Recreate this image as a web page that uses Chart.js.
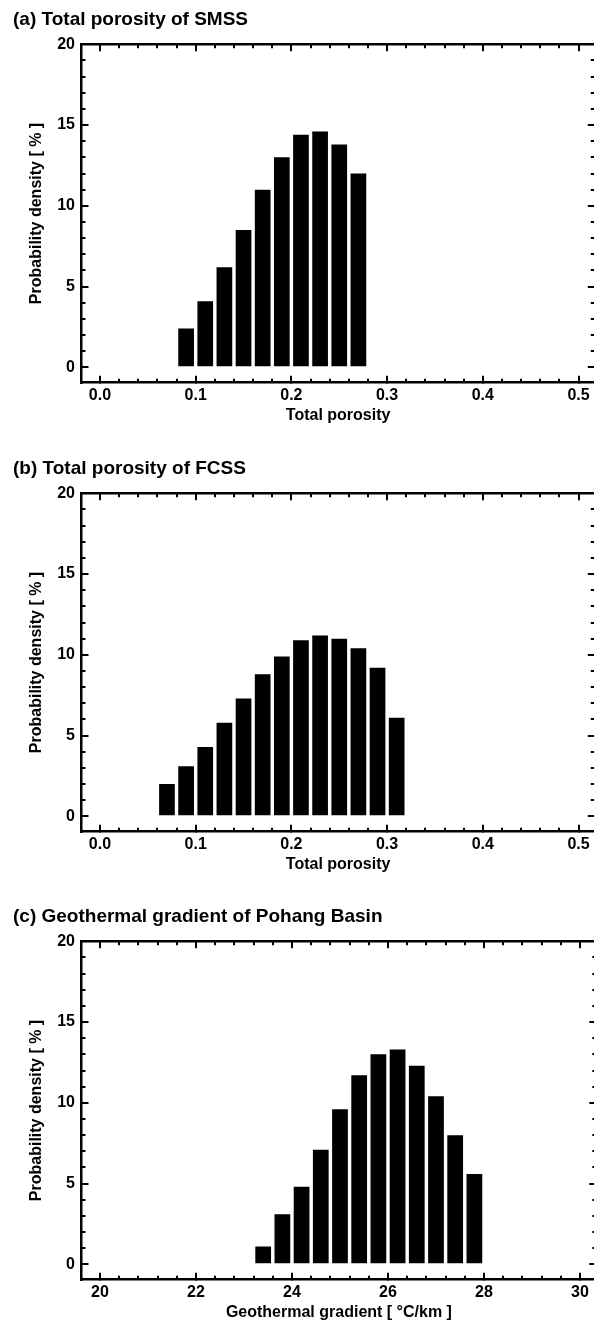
<!DOCTYPE html>
<html>
<head>
<meta charset="utf-8">
<title>Probability density histograms</title>
<script src="https://cdn.jsdelivr.net/npm/chart.js@4.4.1/dist/chart.umd.min.js"></script>
<style>
  html, body { margin: 0; padding: 0; background: #fff; }
  #page { position: relative; width: 594px; height: 1327px; overflow: hidden; background: #fff; }
  #page canvas { position: absolute; left: 0; }
</style>
</head>
<body>
<div id="page">
  <canvas id="panelA" width="600" height="449" style="top:0px"></canvas>
  <canvas id="panelB" width="600" height="449" style="top:449px"></canvas>
  <canvas id="panelC" width="600" height="449" style="top:897px"></canvas>
</div>
<script>
// ---- data ----------------------------------------------------------------
// (a) total porosity of SMSS: bin centres and probability density [%]
const smssPorosity = [0.09, 0.11, 0.13, 0.15, 0.17, 0.19, 0.21, 0.23, 0.25, 0.27];
const smssDensity  = [2.4, 4.1, 6.2, 8.5, 11.0, 13.0, 14.4, 14.6, 13.8, 12.0];

// (b) total porosity of FCSS
const fcssPorosity = [0.07, 0.09, 0.11, 0.13, 0.15, 0.17, 0.19, 0.21, 0.23, 0.25, 0.27, 0.29, 0.31];
const fcssDensity  = [2.0, 3.1, 4.3, 5.8, 7.3, 8.8, 9.9, 10.9, 11.2, 11.0, 10.4, 9.2, 6.1];

// (c) geothermal gradient of Pohang Basin [°C/km]
const pohangGradient = [23.4, 23.8, 24.2, 24.6, 25.0, 25.4, 25.8, 26.2, 26.6, 27.0, 27.4, 27.8];
const pohangDensity  = [1.1, 3.1, 4.8, 7.1, 9.6, 11.7, 13.0, 13.3, 12.3, 10.4, 8.0, 5.6];

// labelled (major) ticks
const porosityTicks = ['0.0', '0.1', '0.2', '0.3', '0.4', '0.5'];
const gradientTicks = ['20', '22', '24', '26', '28', '30'];
const densityTicks  = ['0', '5', '10', '15', '20'];

// ---- shared styling --------------------------------------------------------
const FONT = "'Liberation Sans', Arial, Helvetica, sans-serif";
const INK = '#000';
const CANVAS_W = 600, CANVAS_H = 449;
const PLOT_TOP = 44.3, PLOT_BOTTOM = 382.7, PLOT_LEFT = 81.5, PLOT_RIGHT = 596.3;
const PAD_LEFT = 13;
const TITLE_SIZE = 19, TITLE_PAD_TOP = 8.1;

const MAJOR_LEN = -7, MINOR_LEN = -4;   // negative: tick marks point into the plot
const FRAME_W = 2.5, TICK_W = 2;

function tickGrid(len) {
  return {
    drawOnChartArea: false, drawTicks: true, tickLength: len, offset: false,
    tickWidth: TICK_W, tickColor: INK, lineWidth: TICK_W, color: INK
  };
}
function majorFromList(list) {
  return scale => { scale.ticks = list.map(v => ({ value: Number(v) })); };
}

function buildPanel(canvasId, opt) {
  const labelFont = { family: FONT, size: 16, weight: 'bold' };

  // one axis pair per side: a labelled major axis plus a zero-size minor axis
  const xBase = { type: 'linear', min: opt.xMin, max: opt.xMax, offset: false };
  const yBase = { type: 'linear', min: -0.95, max: 20, offset: false };

  const scales = {
    x: Object.assign({}, xBase, {
      position: 'bottom', weight: 1,
      afterBuildTicks: majorFromList(opt.xTicks),
      ticks: { autoSkip: false, maxRotation: 0, padding: 10.2, color: INK, font: labelFont,
               callback: (v, i) => opt.xTicks[i] },
      grid: tickGrid(MAJOR_LEN),
      border: { display: true, width: FRAME_W, color: INK },
      title: { display: true, text: opt.xTitle, color: INK, font: labelFont,
               padding: { top: 0, bottom: 23.4 } },
      afterFit: s => { s.height = CANVAS_H - PLOT_BOTTOM; }
    }),
    xMinor: Object.assign({}, xBase, {
      position: 'bottom', weight: 0,
      ticks: { display: false, stepSize: opt.xMinorStep, includeBounds: false, autoSkip: false },
      grid: tickGrid(MINOR_LEN),
      border: { display: false },
      afterFit: s => { s.height = 0; }
    }),
    xTop: Object.assign({}, xBase, {
      position: 'top', weight: 1,
      afterBuildTicks: majorFromList(opt.xTicks),
      ticks: { display: false, autoSkip: false },
      grid: tickGrid(MAJOR_LEN),
      border: { display: true, width: FRAME_W, color: INK },
      afterFit: s => { s.height = 0; }
    }),
    xTopMinor: Object.assign({}, xBase, {
      position: 'top', weight: 0,
      ticks: { display: false, stepSize: opt.xMinorStep, includeBounds: false, autoSkip: false },
      grid: tickGrid(MINOR_LEN),
      border: { display: false },
      afterFit: s => { s.height = 0; }
    }),
    y: Object.assign({}, yBase, {
      position: 'left', weight: 1,
      afterBuildTicks: majorFromList(densityTicks),
      ticks: { autoSkip: false, padding: 13.5, color: INK, font: labelFont,
               callback: (v, i) => densityTicks[i] },
      grid: tickGrid(MAJOR_LEN),
      border: { display: true, width: FRAME_W, color: INK },
      title: { display: true, text: 'Probability density [ % ]', color: INK, font: labelFont,
               padding: { top: 14.3, bottom: 0 } },
      afterFit: s => { s.width = PLOT_LEFT - PAD_LEFT; }
    }),
    yMinor: Object.assign({}, yBase, {
      position: 'left', weight: 0,
      ticks: { display: false, stepSize: 1, includeBounds: false, autoSkip: false },
      grid: tickGrid(MINOR_LEN),
      border: { display: false },
      afterFit: s => { s.width = 0; }
    }),
    yRight: Object.assign({}, yBase, {
      position: 'right', weight: 1,
      afterBuildTicks: majorFromList(densityTicks),
      ticks: { display: false, autoSkip: false },
      grid: tickGrid(MAJOR_LEN),
      border: { display: true, width: FRAME_W, color: INK },
      afterFit: s => { s.width = 0; }
    }),
    yRightMinor: Object.assign({}, yBase, {
      position: 'right', weight: 0,
      ticks: { display: false, stepSize: 1, includeBounds: false, autoSkip: false },
      grid: tickGrid(MINOR_LEN),
      border: { display: false },
      afterFit: s => { s.width = 0; }
    })
  };

  return new Chart(document.getElementById(canvasId), {
    type: 'bar',
    data: {
      datasets: [{
        data: opt.bins.map((b, i) => ({ x: b, y: opt.values[i] })),
        xAxisID: 'x', yAxisID: 'y',
        backgroundColor: INK, borderWidth: 0,
        categoryPercentage: 1.0, barPercentage: 0.82
      }]
    },
    options: {
      responsive: false, animation: false, devicePixelRatio: 1, events: [],
      layout: { padding: { left: PAD_LEFT, right: CANVAS_W - PLOT_RIGHT, top: 0, bottom: 0 } },
      plugins: {
        legend: { display: false },
        tooltip: { enabled: false },
        title: {
          display: true, text: opt.title, align: 'start', color: INK,
          font: { family: FONT, size: TITLE_SIZE, weight: 'bold', lineHeight: 1.2 },
          padding: { top: TITLE_PAD_TOP, bottom: PLOT_TOP - TITLE_PAD_TOP - TITLE_SIZE * 1.2 }
        }
      },
      scales
    }
  });
}

buildPanel('panelA', {
  title: '(a) Total porosity of SMSS', xTitle: 'Total porosity',
  bins: smssPorosity, values: smssDensity,
  xMin: -0.0193, xMax: 0.517, xTicks: porosityTicks, xMinorStep: 0.02
});
buildPanel('panelB', {
  title: '(b) Total porosity of FCSS', xTitle: 'Total porosity',
  bins: fcssPorosity, values: fcssDensity,
  xMin: -0.0193, xMax: 0.517, xTicks: porosityTicks, xMinorStep: 0.02
});
buildPanel('panelC', {
  title: '(c) Geothermal gradient of Pohang Basin', xTitle: 'Geothermal gradient [ °C/km ]',
  bins: pohangGradient, values: pohangDensity,
  xMin: 19.615, xMax: 30.34, xTicks: gradientTicks, xMinorStep: 0.4
});
</script>
</body>
</html>
